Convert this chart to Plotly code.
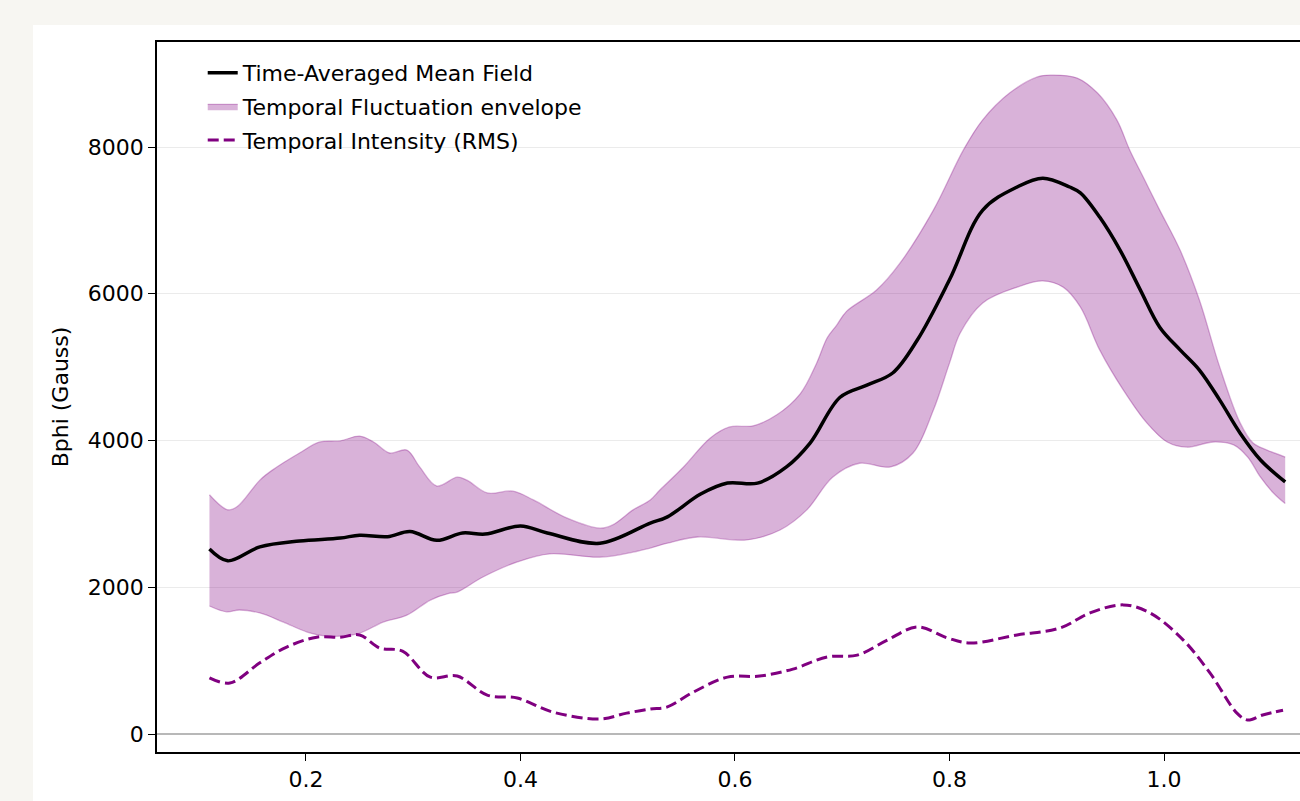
import plotly.graph_objects as go

# ---------------- data ----------------
mean_x = [0.110, 0.127, 0.157, 0.194, 0.232, 0.250, 0.276, 0.297, 0.322, 0.346,
          0.367, 0.400, 0.425, 0.474, 0.521, 0.537, 0.568, 0.593, 0.621, 0.648,
          0.670, 0.698, 0.723, 0.747, 0.770, 0.800, 0.831, 0.863, 0.887, 0.912,
          0.922, 0.940, 0.959, 0.978, 0.996, 1.015, 1.033, 1.052, 1.071, 1.090,
          1.113]
mean_y = [2520, 2360, 2550, 2630, 2670, 2710, 2690, 2760, 2640, 2740,
          2725, 2835, 2740, 2600, 2875, 2960, 3270, 3420, 3420, 3640,
          3965, 4590, 4755, 4920, 5370, 6190, 7140, 7455, 7575, 7455,
          7375, 7045, 6595, 6050, 5545, 5235, 4960, 4550, 4100, 3735,
          3435]

upper_x = [0.110, 0.127, 0.136, 0.157, 0.169, 0.194, 0.213, 0.232, 0.250, 0.263,
           0.278, 0.294, 0.306, 0.322, 0.341, 0.350, 0.369, 0.393, 0.412, 0.443,
           0.474, 0.486, 0.505, 0.521, 0.530, 0.552, 0.577, 0.595, 0.617, 0.639,
           0.661, 0.676, 0.686, 0.695, 0.704, 0.732, 0.754, 0.785, 0.813, 0.831,
           0.856, 0.882, 0.894, 0.919, 0.938, 0.956, 0.968, 0.982, 0.996, 1.015,
           1.033, 1.052, 1.071, 1.083, 1.096, 1.113]
upper_y = [3260, 3055, 3100, 3460, 3600, 3830, 3980, 3995, 4060, 3980,
           3830, 3870, 3640, 3380, 3500, 3460, 3285, 3310, 3190, 2945,
           2805, 2850, 3055, 3190, 3325, 3640, 4035, 4185, 4200, 4350,
           4640, 5050, 5400, 5575, 5760, 6050, 6420, 7140, 7960, 8370,
           8735, 8955, 8980, 8940, 8735, 8370, 7960, 7550, 7140, 6595,
           5915, 5000, 4240, 3965, 3870, 3775]

lower_x = [0.110, 0.126, 0.138, 0.157, 0.179, 0.201, 0.220, 0.248, 0.272, 0.294,
           0.316, 0.334, 0.341, 0.365, 0.397, 0.427, 0.474, 0.505, 0.521, 0.537,
           0.565, 0.611, 0.642, 0.667, 0.691, 0.716, 0.745, 0.766, 0.785, 0.800,
           0.810, 0.831, 0.863, 0.887, 0.906, 0.922, 0.940, 0.962, 0.984, 1.003,
           1.021, 1.046, 1.065, 1.078, 1.090, 1.102, 1.113]
lower_y = [1745, 1665, 1690, 1650, 1525, 1390, 1335, 1365, 1525, 1620,
           1825, 1920, 1935, 2140, 2345, 2455, 2410, 2480, 2535, 2600,
           2685, 2645, 2780, 3055, 3500, 3690, 3640, 3830, 4415, 5055,
           5465, 5875, 6090, 6175, 6090, 5820, 5235, 4690, 4240, 3980,
           3910, 3980, 3940, 3775, 3500, 3285, 3140]

rms_x = [0.110, 0.129, 0.157, 0.182, 0.210, 0.232, 0.250, 0.269, 0.290, 0.316,
         0.341, 0.369, 0.397, 0.430, 0.474, 0.499, 0.521, 0.537, 0.561, 0.593,
         0.623, 0.654, 0.686, 0.714, 0.742, 0.770, 0.798, 0.819, 0.863, 0.903,
         0.931, 0.962, 0.987, 1.018, 1.043, 1.068, 1.078, 1.092, 1.111]
rms_y = [765, 695, 970, 1185, 1320, 1320, 1350, 1170, 1130, 775,
         790, 530, 490, 300, 205, 285, 340, 370, 570, 775,
         790, 885, 1050, 1075, 1280, 1460, 1310, 1240, 1350, 1445,
         1650, 1760, 1650, 1280, 830, 285, 190, 260, 325]

x_ticks = [0.2, 0.4, 0.6, 0.8, 1.0]
x_tick_labels = ["0.2", "0.4", "0.6", "0.8", "1.0"]
y_ticks = [0, 2000, 4000, 6000, 8000]
y_tick_labels = ["0", "2000", "4000", "6000", "8000"]

names = ["Time-Averaged Mean Field", "Temporal Fluctuation envelope", "Temporal Intensity (RMS)"]
y_title = "Bphi (Gauss)"

# ---------------- styles ----------------
FONT = "DejaVu Sans"
FS = 22
PURPLE = "rgb(128,0,128)"
FILL = "rgba(128,0,128,0.3)"

fig = go.Figure()

fig.add_trace(go.Scatter(
    x=upper_x, y=upper_y, mode="lines", line=dict(color=FILL, width=1.3, shape="spline"),
    showlegend=False, hoverinfo="skip", legendgroup="b"))
fig.add_trace(go.Scatter(
    x=lower_x, y=lower_y, mode="lines", line=dict(color=FILL, width=1.3, shape="spline"),
    fill="tonexty", fillcolor=FILL, name=names[1], legendrank=2, legendgroup="b"))
fig.add_trace(go.Scatter(
    x=mean_x, y=mean_y, mode="lines", line=dict(color="black", width=3.5, shape="spline"),
    name=names[0], legendrank=1, legendgroup="a"))
fig.add_trace(go.Scatter(
    x=rms_x, y=rms_y, mode="lines",
    line=dict(color=PURPLE, width=3, dash="11px,5px", shape="spline"),
    name=names[2], legendrank=3, legendgroup="c"))

# white figure panel on top of the beige page
fig.add_shape(type="rect", xref="paper", yref="paper",
              x0=-0.1085, x1=1.05, y0=-0.12, y1=1.0239,
              fillcolor="white", line=dict(width=0), layer="below")

fig.update_layout(
    width=1300, height=801,
    margin=dict(l=157, r=0, t=42, b=49, pad=0),
    paper_bgcolor="#f7f6f2",
    plot_bgcolor="white",
    font=dict(family=FONT, size=FS, color="black"),
    showlegend=True,
    legend=dict(x=0.04, y=0.986, xanchor="left", yanchor="top",
                bgcolor="rgba(0,0,0,0)", borderwidth=0,
                font=dict(family=FONT, size=FS, color="black"),
                traceorder="grouped", tracegroupgap=2, itemwidth=30),
    xaxis=dict(range=[0.0611, 1.1268], tickmode="array", tickvals=x_ticks,
               ticktext=x_tick_labels, showgrid=False, zeroline=False,
               showline=True, linecolor="black", linewidth=1.6, mirror=True,
               ticks="outside", ticklen=7, tickwidth=1.3, tickcolor="black",
               tickfont=dict(family=FONT, size=FS, color="black")),
    yaxis=dict(range=[-245, 9431], tickmode="array", tickvals=y_ticks,
               ticktext=y_tick_labels, showgrid=True, gridcolor="#ebebeb", gridwidth=1,
               zeroline=True, zerolinecolor="#b8b8b8", zerolinewidth=1.6,
               showline=True, linecolor="black", linewidth=1.6, mirror=False,
               ticks="outside", ticklen=7, tickwidth=1.3, tickcolor="black",
               tickfont=dict(family=FONT, size=FS, color="black"),
               title=dict(text=y_title, font=dict(family=FONT, size=FS, color="black"),
                          standoff=13)),
)

fig.write_html("out.html")
